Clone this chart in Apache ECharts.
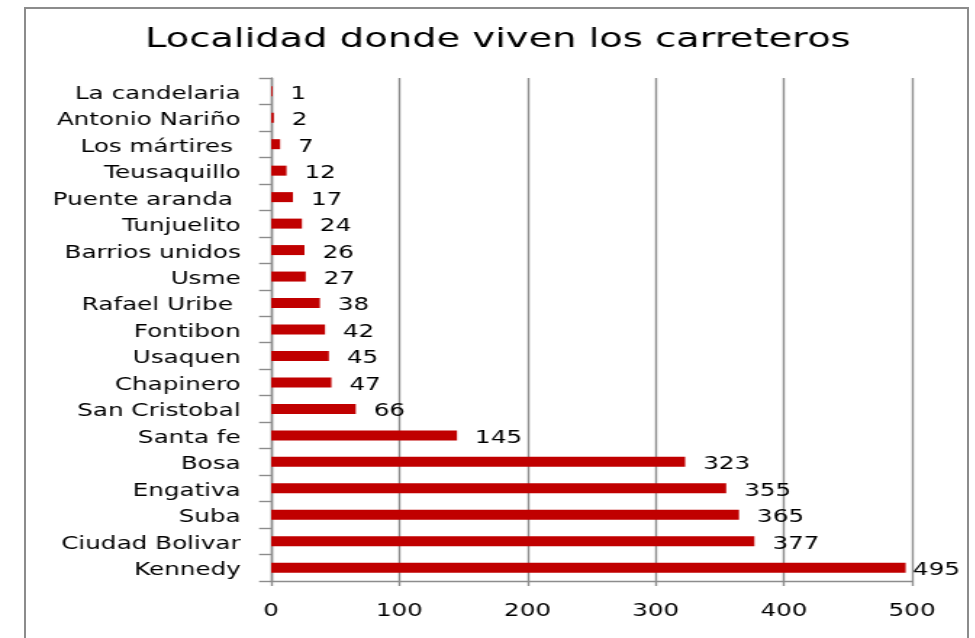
<!DOCTYPE html>
<html>
<head>
<meta charset="utf-8">
<script src="https://cdn.jsdelivr.net/npm/echarts@6/dist/echarts.min.js"></script>
<style>
  html, body { margin: 0; padding: 0; background: #fff; overflow: hidden; }
  #frame { position: absolute; left: 24px; top: 7px; width: 945px; height: 640px; border: 2px solid #8c8c8c; border-bottom: none; box-sizing: border-box; }
  /* the chart is laid out narrow and widened horizontally, giving the wide lettering */
  #chart { position: absolute; left: 0; top: 0; width: 672px; height: 638px; transform: scaleX(1.45); transform-origin: 0 0; }
</style>
</head>
<body>
<div id="frame"></div>
<div id="chart"></div>
<script>
// Localities, listed from the bottom of the axis upward
const localidades = [
  'Kennedy', 'Ciudad Bolivar', 'Suba', 'Engativa', 'Bosa', 'Santa fe',
  'San Cristobal', 'Chapinero', 'Usaquen', 'Fontibon', 'Rafael Uribe ',
  'Usme', 'Barrios unidos', 'Tunjuelito', 'Puente aranda ', 'Teusaquillo',
  'Los mártires ', 'Antonio Nariño', 'La candelaria'
];
const carreteros = [495, 377, 365, 355, 323, 145, 66, 47, 45, 42, 38, 27, 26, 24, 17, 12, 7, 2, 1];
const xTicks = [0, 100, 200, 300, 400, 500];

const font = 'DejaVu Sans';
const chart = echarts.init(document.getElementById('chart'), null, { renderer: 'canvas' });

const maxVal = Math.max(...carreteros);
const seriesData = carreteros.map(v => {
  const item = { value: v };
  if (v === maxVal) item.label = { distance: 5 };
  return item;
});

chart.setOption({
  animation: false,
  title: {
    text: 'Localidad donde viven los carreteros',
    left: 95,
    top: 22,
    textStyle: { fontFamily: font, fontSize: 26.5, fontWeight: 'normal', color: '#000' }
  },
  grid: { left: 187, right: 43, top: 78, bottom: 57, containLabel: false },
  xAxis: {
    type: 'value',
    min: xTicks[0],
    max: xTicks[xTicks.length - 1],
    interval: 100,
    axisLine: { show: true, lineStyle: { color: '#8c8c8c', width: 1.4 } },
    axisTick: { show: true, length: 5, lineStyle: { color: '#8c8c8c', width: 1.4 } },
    axisLabel: { fontFamily: font, fontSize: 17, color: '#000', margin: 22 },
    splitLine: { show: true, lineStyle: { color: '#8c8c8c', width: 1.4 } }
  },
  yAxis: {
    type: 'category',
    data: localidades,
    axisLine: { show: true, lineStyle: { color: '#8c8c8c', width: 1.4 } },
    axisTick: { show: true, inside: false, length: 8.3, alignWithLabel: false, lineStyle: { color: '#8c8c8c', width: 1.4 } },
    axisLabel: {
      margin: 21,
      formatter: name => '{n|' + name + '}',
      rich: { n: { fontFamily: font, fontSize: 17, color: '#000', padding: [6, 0, 0, 0] } }
    }
  },
  series: [{
    type: 'bar',
    data: seriesData,
    barWidth: 10,
    itemStyle: { color: '#c00000' },
    label: {
      show: true,
      position: 'right',
      distance: 12.4,
      offset: [0, 3],
      fontFamily: font,
      fontSize: 17,
      color: '#000'
    }
  }]
});
</script>
</body>
</html>
